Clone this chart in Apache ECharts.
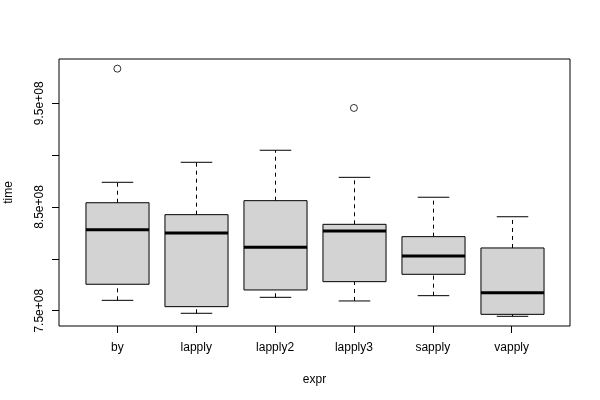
<!DOCTYPE html>
<html>
<head>
<meta charset="utf-8">
<script src="https://cdn.jsdelivr.net/npm/echarts@6/dist/echarts.min.js"></script>
<style>
  html, body { margin: 0; padding: 0; background: #fff; }
  #chart { width: 600px; height: 400px; }
</style>
</head>
<body>
<div id="chart"></div>
<script>
// boxplot stats per expr
const categories = ['by', 'lapply', 'lapply2', 'lapply3', 'sapply', 'vapply']
const lowerWhisker = [760.0e6, 747.5e6, 762.9e6, 759.4e6, 764.5e6, 744.6e6]
const q1 = [775.5e6, 753.9e6, 770.0e6, 778.0e6, 785.1e6, 746.5e6]
const medians = [828.1e6, 824.9e6, 811.1e6, 826.9e6, 802.7e6, 767.4e6]
const q3 = [854.1e6, 842.6e6, 856.1e6, 833.3e6, 821.4e6, 810.5e6]
const upperWhisker = [873.8e6, 893.1e6, 904.7e6, 878.6e6, 859.4e6, 840.6e6]
const outliers = [[1, 983.4e6], [4, 945.5e6]]
const yTicks = [7.5e8, 8.0e8, 8.5e8, 9.0e8, 9.5e8]
const yLabels = [7.5e8, 8.5e8, 9.5e8]

const font = "'Liberation Sans', Arial, sans-serif"
const xPos = categories.map((c, i) => i + 1)

var boxData = categories.map((c, i) => [i + 1, lowerWhisker[i], q1[i], medians[i], q3[i], upperWhisker[i]])

function renderBox(params, api) {
  var x = api.value(0)
  var pLw = api.coord([x, api.value(1)])
  var pQ1 = api.coord([x, api.value(2)])
  var pMed = api.coord([x, api.value(3)])
  var pQ3 = api.coord([x, api.value(4)])
  var pUw = api.coord([x, api.value(5)])
  var half = api.size([0.4, 0])[0]
  var cap = api.size([0.2, 0])[0]
  var cx = Math.round(pMed[0]) + 0.5
  var dashed = { stroke: '#000', lineWidth: 1, lineDash: [4, 4] }
  var solid = { stroke: '#000', lineWidth: 1 }
  return {
    type: 'group',
    children: [
      { type: 'line', shape: { x1: cx, y1: pLw[1], x2: cx, y2: pQ1[1] }, style: dashed },
      { type: 'line', shape: { x1: cx, y1: pQ3[1], x2: cx, y2: pUw[1] }, style: dashed },
      { type: 'line', shape: { x1: cx - cap, y1: pLw[1], x2: cx + cap, y2: pLw[1] }, style: solid },
      { type: 'line', shape: { x1: cx - cap, y1: pUw[1], x2: cx + cap, y2: pUw[1] }, style: solid },
      {
        type: 'rect',
        shape: { x: cx - half, y: pQ3[1], width: half * 2, height: pQ1[1] - pQ3[1] },
        style: { fill: '#d3d3d3', stroke: '#000', lineWidth: 1 }
      },
      { type: 'line', shape: { x1: cx - half, y1: pMed[1], x2: cx + half, y2: pMed[1] }, style: { stroke: '#000', lineWidth: 3 } }
    ]
  }
}

var myChart = echarts.init(document.getElementById('chart'))
var option = {
  animation: false,
  backgroundColor: '#fff',
  textStyle: { fontFamily: font },
  grid: {
    left: 59,
    right: 30,
    top: 59,
    bottom: 74,
    outerBoundsMode: 'none',
    containLabel: false,
    show: true,
    borderColor: '#000',
    borderWidth: 1
  },
  xAxis: {
    type: 'value',
    min: 0.26,
    max: 6.74,
    name: 'expr',
    nameLocation: 'middle',
    nameGap: 48,
    nameTextStyle: { color: '#000', fontSize: 12, fontFamily: font },
    splitLine: { show: false },
    axisLine: { show: false },
    axisTick: { show: true, length: 7, customValues: xPos, lineStyle: { color: '#000' } },
    axisLabel: {
      customValues: xPos,
      margin: 16,
      color: '#000',
      fontSize: 12,
      fontFamily: font,
      formatter: (v) => categories[Math.round(v) - 1]
    }
  },
  yAxis: {
    type: 'value',
    min: 735.25e6,
    max: 992.7e6,
    name: 'time',
    nameLocation: 'middle',
    nameGap: 44,
    nameTextStyle: { color: '#000', fontSize: 12, fontFamily: font },
    splitLine: { show: false },
    axisLine: { show: false },
    axisTick: { show: true, length: 7, customValues: yTicks, lineStyle: { color: '#000' } },
    axisLabel: {
      customValues: yLabels,
      rotate: 90,
      margin: 13,
      color: '#000',
      fontSize: 12,
      fontFamily: font,
      formatter: (v) => (v / 1e8).toFixed(1) + 'e+08'
    }
  },
  series: [
    {
      type: 'custom',
      data: boxData,
      encode: { x: 0, y: [1, 2, 3, 4, 5] },
      renderItem: renderBox
    },
    {
      type: 'scatter',
      data: outliers,
      symbol: 'circle',
      symbolSize: 7,
      itemStyle: { color: 'rgba(0,0,0,0)', borderColor: '#000', borderWidth: 1 }
    }
  ]
}
option && myChart.setOption(option)
</script>
</body>
</html>
